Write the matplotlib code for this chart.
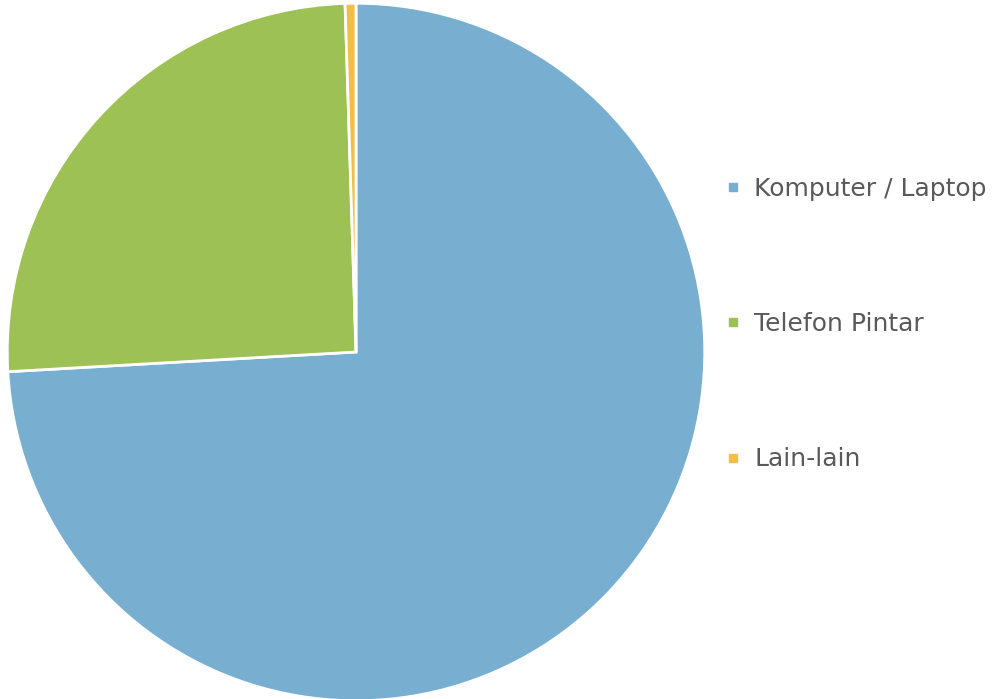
import matplotlib.pyplot as plt
from matplotlib.lines import Line2D

labels = ["Komputer / Laptop", "Telefon Pintar", "Lain-lain"]
values = [74.1, 25.4, 0.5]
colors = ["#78AFD0", "#9DC155", "#F4BE45"]

fig = plt.figure(figsize=(10.02, 6.99), dpi=100)
ax = fig.add_axes([9 / 1002, 0.0, 694 / 1002, 694 / 699])
ax.pie(values, colors=colors, startangle=90, counterclock=False,
       wedgeprops=dict(edgecolor="white", linewidth=2))
ax.set_xlim(-0.995, 0.995)
ax.set_ylim(-0.995, 0.995)
ax.set_aspect("equal")

handles = [Line2D([0], [0], marker="s", linestyle="none", markersize=5.5,
                  markerfacecolor=c, markeredgecolor=c) for c in colors]
fig.legend(handles, labels, loc="center left", bbox_to_anchor=(703 / 1002, 1 - 324 / 699),
           frameon=False, labelspacing=4.45, handlelength=0.6,
           handletextpad=0.55, labelcolor="#595959",
           prop={"family": ["DejaVu Sans"], "size": 18})

fig.savefig("out.png", dpi=100)
